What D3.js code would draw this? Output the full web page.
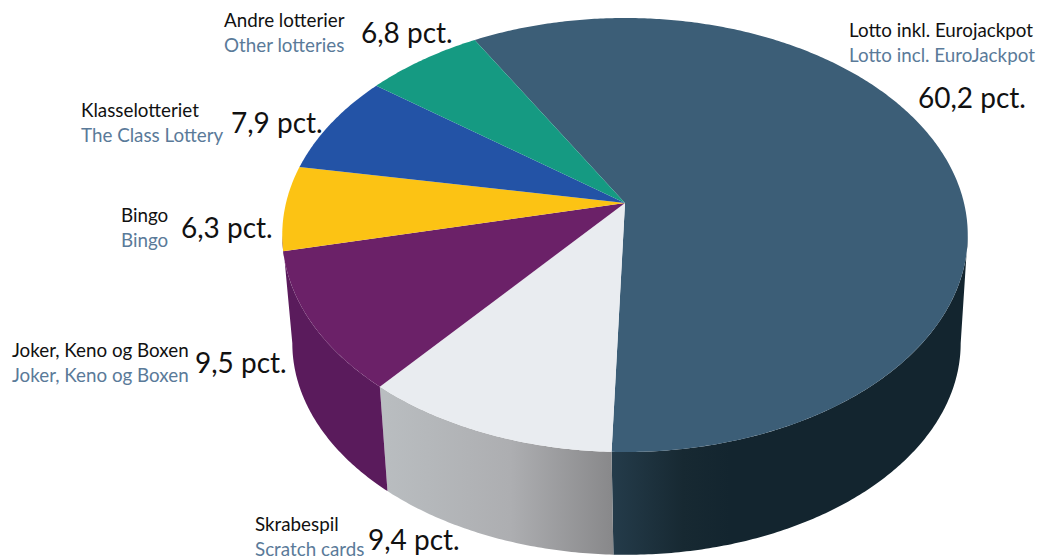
<!DOCTYPE html>
<html>
<head>
<meta charset="utf-8">
<script src="https://d3js.org/d3.v7.min.js"></script>
<style>
  html, body { margin: 0; background: #fff; }
  svg { display: block; }
  text { font-family: Lato, "Open Sans", sans-serif; }
</style>
</head>
<body>
<div id="chart"></div>
<script>
// clockwise from the lotto slice, same order as the picture
var namesDa = ["Lotto inkl. Eurojackpot", "Skrabespil", "Joker, Keno og Boxen", "Bingo", "Klasselotteriet", "Andre lotterier"];
var namesEn = ["Lotto incl. EuroJackpot", "Scratch cards", "Joker, Keno og Boxen", "Bingo", "The Class Lottery", "Other lotteries"];
var printedPct = ["60,2", "9,4", "9,5", "6,3", "7,9", "6,8"];
// slice sizes as drawn in the picture (they differ a little from the printed numbers)
var drawnShare = [58.9, 10.55, 10.4, 6.3, 7.5, 6.4];

var topColors = ["#3c5e77", "#e9ecf0", "#6b2168", "#fcc314", "#2353a6", "#159a82"];

// [name x, name baseline, pct x, pct baseline]
var labelPos = [
  [849, 37, 918, 108],
  [255, 531, 368, 550],
  [12, 357, 195, 373],
  [121, 222, 181, 238],
  [81, 117, 231, 133],
  [224, 27, 361, 43]
];

var svgWidth = 1041;
var svgHeight = 560;

var svg = d3.select("#chart")
  .append("svg")
  .attr("width", svgWidth)
  .attr("height", svgHeight);

// perspective of the disc: the apex sits above the centre of the ellipse
var apexX = 625;
var apexY = 203;
var halfW = 339;
var halfH = 212.3;
var tilt = 0.1475;

// lower rim of the wall
var lowerX = 626.5;
var lowerY = 312;
var lowerScale = 0.975;

function rim(a, scale, cx, cy) {
  var d = 1 + tilt * Math.cos(a);
  return [
    cx + scale * halfW * Math.sin(a) / d,
    cy - scale * halfH * Math.cos(a) / d
  ];
}

function rimPoints(a0, a1, scale, cx, cy) {
  var n = Math.max(2, Math.ceil(Math.abs(a1 - a0) / 0.01));
  return d3.range(n + 1).map(function(i) {
    return rim(a0 + (a1 - a0) * i / n, scale, cx, cy);
  });
}

var line = d3.line();
var startDeg = -30;

var pie = d3.pie()
  .sort(null)
  .startAngle(startDeg * Math.PI / 180)
  .endAngle((startDeg + 360) * Math.PI / 180);

var slices = pie(drawnShare);

// gradients for the visible wall sections
var defs = svg.append("defs");

function wallGradient(id, x1, x2, stops) {
  var g = defs.append("linearGradient")
    .attr("id", id)
    .attr("gradientUnits", "userSpaceOnUse")
    .attr("x1", x1).attr("x2", x2)
    .attr("y1", 0).attr("y2", 0);
  stops.forEach(function(s) {
    g.append("stop").attr("offset", s[0]).attr("stop-color", s[1]);
  });
}

wallGradient("wallLotto", 613, 730, [[0, "#243b4a"], [0.6, "#172932"], [1, "#13252f"]]);
wallGradient("wallScratch", 385, 613, [[0, "#b9bdc0"], [0.55, "#adaeb1"], [1, "#88888a"]]);

// the side edges of the drum, where the rim is at its widest
var sideRight = Math.acos(-tilt);
var sideLeft = 2 * Math.PI - sideRight;

// walls, only the three front slices show. the purple one runs on round the left side
var walls = [
  { slice: 0, fill: "url(#wallLotto)", from: sideRight, to: slices[0].endAngle },
  { slice: 1, fill: "url(#wallScratch)", from: slices[1].startAngle, to: slices[1].endAngle },
  { slice: 2, fill: "#5a1b5c", from: slices[2].startAngle, to: sideLeft }
];

svg.append("g").selectAll("path")
  .data(walls)
  .enter()
  .append("path")
  .attr("fill", d => d.fill)
  .attr("d", function(d) {
    var upper = rimPoints(d.from, d.to, 1, apexX, apexY);
    var lower = rimPoints(d.to, d.from, lowerScale, lowerX, lowerY);
    return line(upper.concat(lower)) + "Z";
  });

// top faces
svg.append("g").selectAll("path")
  .data(slices)
  .enter()
  .append("path")
  .attr("fill", (d, i) => topColors[i])
  .attr("d", function(d) {
    return line([[apexX, apexY]].concat(rimPoints(d.startAngle, d.endAngle, 1, apexX, apexY))) + "Z";
  });

// labels
var labels = svg.append("g").selectAll("g")
  .data(namesDa)
  .enter()
  .append("g");

labels.append("text")
  .attr("x", (d, i) => labelPos[i][0])
  .attr("y", (d, i) => labelPos[i][1])
  .attr("font-size", 18.8)
  .attr("fill", "#111")
  .text(d => d);

labels.append("text")
  .attr("x", (d, i) => labelPos[i][0])
  .attr("y", (d, i) => labelPos[i][1] + 25)
  .attr("font-size", 18.8)
  .attr("fill", "#5a7a99")
  .text((d, i) => namesEn[i]);

labels.append("text")
  .attr("x", (d, i) => labelPos[i][2])
  .attr("y", (d, i) => labelPos[i][3])
  .attr("font-size", 28)
  .attr("fill", "#111")
  .text((d, i) => printedPct[i] + " pct.");
</script>
</body>
</html>
